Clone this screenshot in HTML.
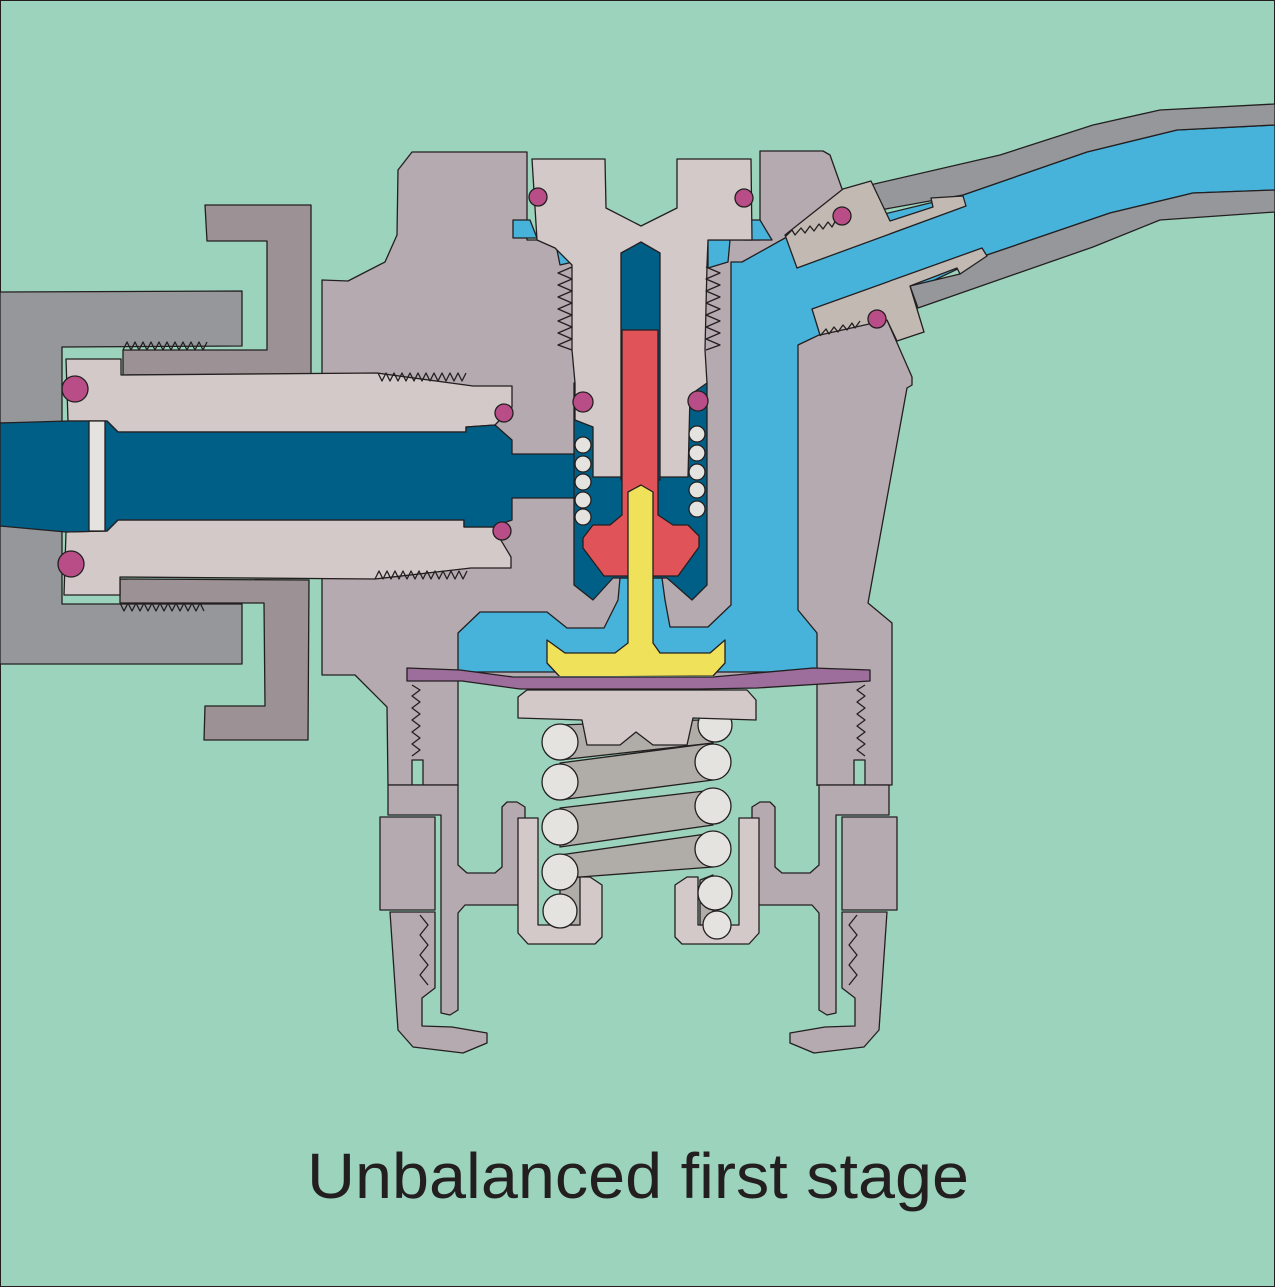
<!DOCTYPE html>
<html><head><meta charset="utf-8"><style>
html,body{margin:0;padding:0;background:#9cd3bc;}
svg{display:block;}
</style></head><body>
<svg width="1275" height="1287" viewBox="0 0 1275 1287" xmlns="http://www.w3.org/2000/svg">
<rect x="0.5" y="0.5" width="1274" height="1286" fill="#9cd3bc" stroke="#231f20" stroke-width="1"/>
<g stroke="#231f20" stroke-width="1.3" stroke-linejoin="round">

<polygon fill="#95979b" points="0,292 242,291 242,346 62,347 62,423 0,423"/>
<polygon fill="#95979b" points="0,526 62,526 62,604 242,604 242,664 0,664"/>
<polygon fill="#9c9194" points="205,205 311,205 311,375 123,375 123,350 267,350 267,241 207,241"/>
<polygon fill="#9c9194" points="120,579 309,580 308,740 204,740 205,706 265,706 264,603 120,603"/>

<polygon fill="#b5aaaf" points="322,280 348,281 385,262 397,235 398,170 412,152 527,152 527,240 760,240 760,151 823,151 830,155 847,203 887,320 912,377 912,385 907,388 868,603 892,623 892,785 388,785 387,707 355,675 322,675"/>

<polygon fill="#47b2da" points="458,633 480,612 547,612 567,628 604,628 618,600 620,578 662,578 665,600 670,627 708,627 731,605 731,262 742,262 785,238 963,195 1087,152 1177,130 1275,125 1275,190 1193,193 1110,213 987,255 798,345 798,610 817,633 817,672 458,672"/>
<polygon fill="#47b2da" points="513,220 530,220 537,238 513,238"/>
<polygon fill="#47b2da" points="745,220 760,220 772,240 745,240"/>
<polygon fill="#47b2da" points="555,240 572,240 573,262 560,265"/>
<polygon fill="#47b2da" points="708,240 730,240 728,262 708,268"/>

<polygon fill="#95979b" points="870,185 1000,155 1093,125 1160,110 1275,104 1275,125 1177,130 1087,152 963,195 880,210"/>
<polygon fill="#95979b" points="987,255 1110,213 1193,193 1275,190 1275,212 1160,220 1093,247 918,308 910,286 960,274"/>
<polygon fill="#c2b9b3" points="843,189 871,181 890,221 933,207 931,198 963,196 966,206 797,268 785,235"/>
<polygon fill="#c2b9b3" points="812,309 982,248 987,256 960,274 957,268 910,286 924,332 897,341 887,320 820,335"/>
<polyline fill="none" points="786,236 792,230 795,235 801,228 805,233 810,226 814,231 819,224 823,229 828,222 832,227 836,220"/>
<polyline fill="none" points="820,336 826,329 829,334 834,327 838,332 843,325 847,330 852,323 855,328 860,321"/>
<circle cx="842" cy="216" r="9" fill="#b84d87"/>
<circle cx="877" cy="319" r="9" fill="#b84d87"/>

<polygon fill="#d2c9c8" points="66,359 121,359 121,375 377,373 473,386 512,386 512,407 495,425 466,427 466,432 118,432 107,421 68,421"/>
<polygon fill="#d2c9c8" points="66,532 107,531 118,520 464,520 464,527 493,527 511,557 511,568 471,568 375,579 120,577 120,595 64,595"/>
<polygon fill="#005f87" points="0,423 68,421 107,421 118,432 466,432 466,427 495,425 512,440 512,454 585,454 585,498 512,498 512,520 493,527 464,527 464,520 118,520 107,531 66,532 0,526"/>
<rect x="89" y="421" width="16" height="110" fill="#e5e3df"/>
<polyline fill="none" points="378,373 382,381 386,373 390,381 394,373 398,381 402,373 406,381 410,373 414,381 418,373 422,381 426,373 430,381 434,373 438,381 442,373 446,381 450,373 454,381 458,373 462,381 466,373"/>
<polyline fill="none" points="375,579 379,571 383,579 387,571 391,579 395,571 399,579 403,571 407,579 411,571 415,579 419,571 423,579 427,571 431,579 435,571 439,579 443,571 447,579 451,571 455,579 459,571 463,579 467,571"/>
<polyline fill="none" points="123,350 127,342 131,350 135,342 139,350 143,342 147,350 151,342 155,350 159,342 163,350 167,342 171,350 175,342 179,350 183,342 187,350 191,342 195,350 199,342 203,350 207,342"/>
<polyline fill="none" points="120,603 124,611 128,603 132,611 136,603 140,611 144,603 148,611 152,603 156,611 160,603 164,611 168,603 172,611 176,603 180,611 184,603 188,611 192,603 196,611 200,603 204,611"/>
<circle cx="75" cy="389" r="13" fill="#b84d87"/>
<circle cx="71" cy="564" r="13" fill="#b84d87"/>
<circle cx="504" cy="413" r="9" fill="#b84d87"/>
<circle cx="502" cy="531" r="9" fill="#b84d87"/>

<polygon fill="#005f87" points="574,383 707,383 707,585 692,600 667,578 613,578 593,600 574,585"/>
<polygon fill="#d2c9c8" points="532,159 605,159 606,208 641,226 677,208 677,159 751,159 752,240 708,240 707,265 705,350 707,383 690,395 688,477 593,477 593,427 575,420 575,383 572,350 572,265 555,248 537,240"/>
<polygon fill="#005f87" points="621,253 641,242 660,253 660,480 621,480"/>
<polyline fill="none" points="572,267 558,273 572,279 558,285 572,291 558,297 572,303 558,309 572,315 558,321 572,327 558,333 572,339 558,345 572,350"/>
<polyline fill="none" points="706,267 720,273 706,279 720,285 706,291 720,297 706,303 720,309 706,315 720,321 706,327 720,333 706,339 720,345 706,350"/>
<polygon fill="#e05459" points="622,330 658,330 658,515 673,525 688,525 699,536 699,547 678,576 604,576 583,548 583,538 593,525 610,525 622,515"/>
<polygon fill="#efe15a" points="628,492 641,485 653,492 653,643 660,653 710,653 725,640 725,663 713,676 560,677 547,663 547,640 565,653 615,653 628,643"/>
<g fill="#e5e3df">
<circle cx="583" cy="445" r="8"/><circle cx="583" cy="464" r="8"/><circle cx="583" cy="482" r="8"/><circle cx="583" cy="500" r="8"/><circle cx="583" cy="517" r="8"/>
<circle cx="697" cy="434" r="8"/><circle cx="697" cy="453" r="8"/><circle cx="697" cy="472" r="8"/><circle cx="697" cy="490" r="8"/><circle cx="697" cy="509" r="8"/>
</g>
<circle cx="538" cy="197" r="9" fill="#b84d87"/>
<circle cx="744" cy="198" r="9" fill="#b84d87"/>
<circle cx="583" cy="402" r="10" fill="#b84d87"/>
<circle cx="698" cy="401" r="10" fill="#b84d87"/>

<rect x="458" y="676" width="359" height="112" fill="#9cd3bc" stroke="none"/>
<line x1="458" y1="676" x2="458" y2="786"/><line x1="817" y1="676" x2="817" y2="786"/>
<rect x="412" y="760" width="11" height="25" fill="#9cd3bc"/>
<rect x="854" y="760" width="11" height="25" fill="#9cd3bc"/>
<polyline fill="none" points="412,685 420,690 412,696 420,702 412,708 420,714 412,720 420,726 412,732 420,738 412,744 420,750 412,756"/>
<polyline fill="none" points="865,685 857,690 865,696 857,702 865,708 857,714 865,720 857,726 865,732 857,738 865,744 857,750 865,756"/>

<g>
<polygon fill="#b5aaaf" points="388,785 458,785 458,865 467,873 495,873 502,867 502,807 507,802 517,802 525,807 525,905 465,905 458,913 458,1010 450,1015 441,1013 441,815 388,815"/>
<rect x="380" y="817" width="55" height="93" fill="#b5aaaf"/>
<polygon fill="#b5aaaf" points="390,912 435,912 435,988 422,998 422,1026 452,1027 487,1033 487,1043 463,1053 413,1047 398,1030"/>
<polyline fill="none" points="420,915 428,925 420,935 428,945 420,955 428,965 420,975 428,985"/>
<polyline fill="none" points="525,842 518,848 525,854 518,860 525,866 518,872 525,878 518,884 525,890 518,896 525,902"/>
<polygon fill="#d2c9c8" points="518,818 538,818 538,925 579,925 579,877 590,877 602,885 602,937 595,944 528,944 518,933"/>
</g>
<g transform="translate(1277,0) scale(-1,1)">
<polygon fill="#b5aaaf" points="388,785 458,785 458,865 467,873 495,873 502,867 502,807 507,802 517,802 525,807 525,905 465,905 458,913 458,1010 450,1015 441,1013 441,815 388,815"/>
<rect x="380" y="817" width="55" height="93" fill="#b5aaaf"/>
<polygon fill="#b5aaaf" points="390,912 435,912 435,988 422,998 422,1026 452,1027 487,1033 487,1043 463,1053 413,1047 398,1030"/>
<polyline fill="none" points="420,915 428,925 420,935 428,945 420,955 428,965 420,975 428,985"/>
<polyline fill="none" points="525,842 518,848 525,854 518,860 525,866 518,872 525,878 518,884 525,890 518,896 525,902"/>
<polygon fill="#d2c9c8" points="518,818 538,818 538,925 579,925 579,877 590,877 602,885 602,937 595,944 528,944 518,933"/>
</g>

<g fill="#b0aca8">
<polygon points="560,725 700,720 713,743 560,760"/>
<polygon points="560,763 713,743 713,780 560,800"/>
<polygon points="560,808 713,790 713,825 560,847"/>
<polygon points="560,855 713,833 713,867 580,877 560,877"/>
<polygon points="560,880 580,877 580,925 560,925"/>
<polygon points="700,880 713,875 713,925 700,925"/>
</g>
<g fill="#e5e3df">
<circle cx="560" cy="742" r="18"/><circle cx="560" cy="782" r="18"/><circle cx="560" cy="827" r="18"/><circle cx="560" cy="872" r="18"/><circle cx="560" cy="911" r="17"/>
<circle cx="715" cy="725" r="17"/><circle cx="713" cy="762" r="18"/><circle cx="713" cy="806" r="18"/><circle cx="713" cy="849" r="18"/><circle cx="715" cy="893" r="17"/><circle cx="717" cy="925" r="14"/>
</g>
<polygon fill="#d2c9c8" points="518,718 518,697 527,690 747,690 756,700 756,720 693,718 687,745 653,745 636,732 620,745 587,745 582,720"/>
<polygon fill="#9d6d9b" points="407,668 460,670 513,677 637,677 713,677 813,668 870,670 870,681 757,688 700,689 573,689 520,689 462,681 407,681"/>
</g>

<text x="638" y="1198" text-anchor="middle" font-family="Liberation Sans, Arial, sans-serif" font-size="64" fill="#231f20" textLength="662" lengthAdjust="spacingAndGlyphs">Unbalanced first stage</text>
</svg>
</body></html>
